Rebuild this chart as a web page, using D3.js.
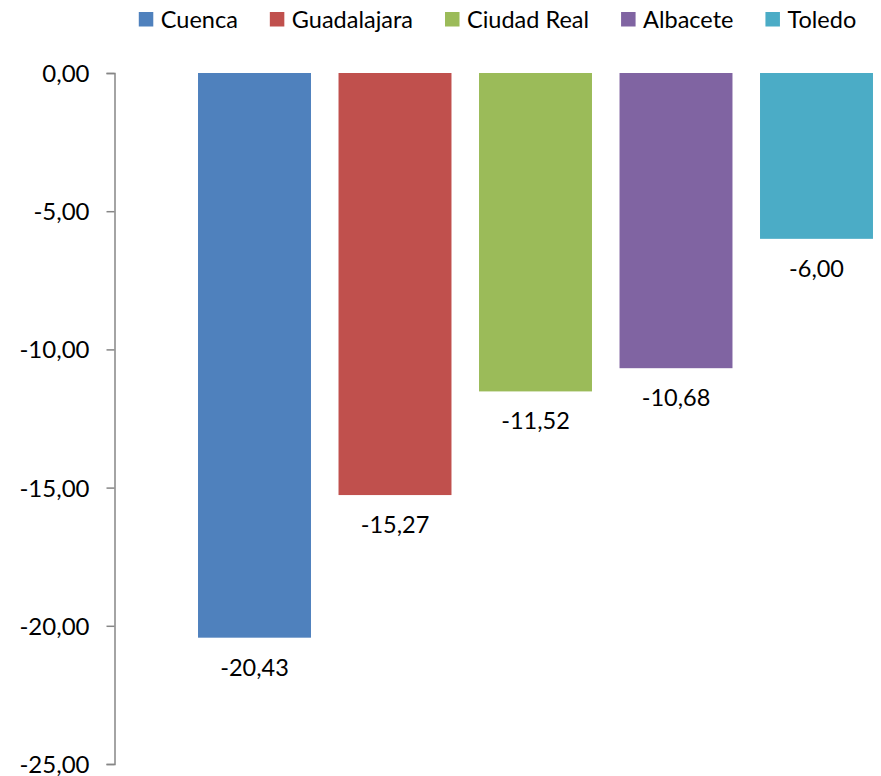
<!DOCTYPE html>
<html><head><meta charset="utf-8">
<script src="https://cdn.jsdelivr.net/npm/d3@7"></script>
<style>body{margin:0;background:#fff}svg{display:block}text{font-family:Lato,"Open Sans",sans-serif;fill:#000}</style>
</head><body>
<svg id="c" width="881" height="776"></svg>
<script>
const categories = ["Cuenca","Guadalajara","Ciudad Real","Albacete","Toledo"];
const values = [-20.43,-15.27,-11.52,-10.68,-6.00];
const colors = ["#4F81BD","#C0504D","#9BBB59","#8064A2","#4BACC6"];
const yTicks = [0,-5,-10,-15,-20,-25];

const svg = d3.select("#c");
const fmt = v => d3.format(".2f")(v).replace("−","-").replace(".",",");

const y = d3.scaleLinear().domain([0,-25]).range([73,764]);
const x = d3.scaleBand().domain(categories).range([184.25,886.75]).paddingInner(0.196).paddingOuter(0.098);

// axis
const ax = svg.append("g").attr("transform","translate(114.5,0)")
  .call(d3.axisLeft(y).tickValues(yTicks).tickSize(8).tickPadding(17).tickFormat(fmt));
ax.select(".domain").attr("stroke","#868686").attr("stroke-width",1.5);
ax.selectAll(".tick line").attr("stroke","#868686").attr("stroke-width",1.5);
ax.selectAll(".tick text").style("font-size","24px").style("font-family","Lato,'Open Sans',sans-serif").attr("fill","#000").attr("dy","0.35em");

// bars
svg.selectAll("rect.bar").data(categories).join("rect").attr("class","bar")
  .attr("x",d=>x(d)).attr("width",x.bandwidth())
  .attr("y",y(0)).attr("height",(d,i)=>y(values[i])-y(0))
  .attr("fill",(d,i)=>colors[i]);

// labels
svg.selectAll("text.lbl").data(categories).join("text").attr("class","lbl")
  .attr("x",d=>x(d)+x.bandwidth()/2).attr("y",(d,i)=>y(values[i])+38)
  .attr("text-anchor","middle").style("font-size","23.5px").text((d,i)=>fmt(values[i]));

// legend
const lg = svg.append("g");
let cx = 0;
categories.forEach((c,i)=>{
  const g = lg.append("g");
  g.append("rect").attr("x",0).attr("y",12).attr("width",14.5).attr("height",14.5).attr("fill",colors[i]);
  const t = g.append("text").attr("x",22).attr("y",27.5).style("font-size","23.5px").text(c);
  const w = 22 + t.node().getComputedTextLength();
  g.attr("transform",`translate(${cx},0)`);
  cx += w + 32;
});
const total = cx - 32;
lg.attr("transform",`translate(${497.5 - total/2},0)`);
</script>
</body></html>
